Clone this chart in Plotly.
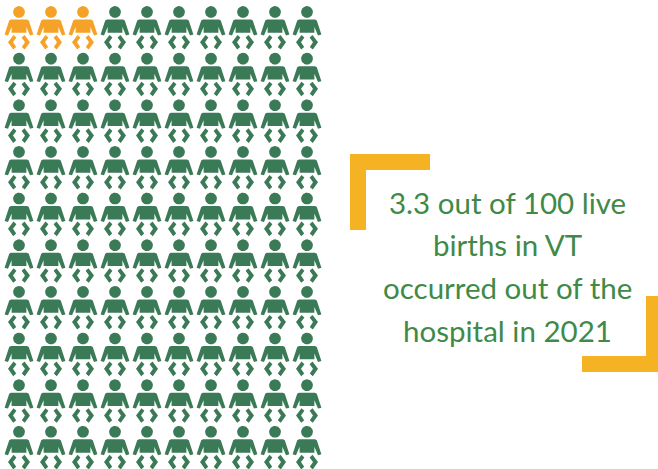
import math
import plotly.graph_objects as go

# Data
total_columns = 10
total_rows = 10
highlighted_count = 3  # icons in the first row drawn in orange
caption_lines = ["3.3 out of 100 live", "births in VT", "occurred out of the", "hospital in 2021"]

W, H = 658, 469
PITCH_X, PITCH_Y = 32.0, 46.65
X0, Y0 = 19.0, 12.0
ORANGE = "#F5A229"
GREEN = "#3B7A57"
BRACKET = "#F5B324"
TEXT = "#3F8A47"

head = [(5.9 * math.cos(2 * math.pi * k / 28), 5.9 * math.sin(2 * math.pi * k / 28)) for k in range(28)]
body = [(-8, 7.5), (8, 7.5), (9.8, 8.5), (14.4, 22.5), (11, 23.4), (7.4, 15), (7.4, 20.8),
        (-7.4, 20.8), (-7.4, 15), (-11, 23.4), (-14.4, 22.5), (-9.8, 8.5)]
leg_l = [(-5.5, 23), (-11, 30.2), (-5.8, 37.6), (-2.8, 35), (-6, 30.2), (-2.6, 25.6)]
leg_r = [(-x, y) for x, y in leg_l]
parts = [head, body, leg_l, leg_r]


def icon_xy(col, row):
    xs, ys = [], []
    for part in parts:
        for dx, dy in part + part[:1]:
            xs.append(col + dx / PITCH_X)
            ys.append(row + dy / PITCH_Y)
        xs.append(None)
        ys.append(None)
    return xs, ys


def group(cells, color, name):
    xs, ys = [], []
    for c, r in cells:
        a, b = icon_xy(c, r)
        xs += a
        ys += b
    return go.Scatter(x=xs, y=ys, mode="lines", fill="toself", fillcolor=color,
                      line=dict(width=0, color=color), name=name, hoverinfo="skip")


cells = [(c, r) for r in range(total_rows) for c in range(total_columns)]
hi = cells[:highlighted_count]
rest = cells[highlighted_count:]

fig = go.Figure([group(rest, GREEN, "In hospital"), group(hi, ORANGE, "Out of hospital")])


def rect(x0, y0, x1, y1):
    return dict(type="rect", xref="paper", yref="paper", x0=x0 / W, x1=x1 / W,
                y0=1 - y0 / H, y1=1 - y1 / H, fillcolor=BRACKET, line_width=0, layer="above")


shapes = [rect(350, 154, 430, 170), rect(350, 154, 366, 230),
          rect(646, 296, 658, 372), rect(582, 356, 658, 372)]
line_y = [202, 245, 287, 330]
annotations = [dict(text=t, xref="paper", yref="paper", x=507.5 / W, y=1 - y / H, xanchor="center",
                    yanchor="middle", showarrow=False, font=dict(family="Lato", size=29.5, color=TEXT))
               for t, y in zip(caption_lines, line_y)]

fig.update_layout(
    width=W, height=H, margin=dict(l=0, r=0, t=0, b=0), showlegend=False,
    paper_bgcolor="white", plot_bgcolor="white", shapes=shapes, annotations=annotations,
    xaxis=dict(range=[-X0 / PITCH_X, (W - X0) / PITCH_X], visible=False, fixedrange=True),
    yaxis=dict(range=[(H - Y0) / PITCH_Y, -Y0 / PITCH_Y], visible=False, fixedrange=True),
)
fig.write_html("out.html", config={"displayModeBar": False},
               post_script="document.body.style.margin='0';document.body.style.overflow='hidden';")
